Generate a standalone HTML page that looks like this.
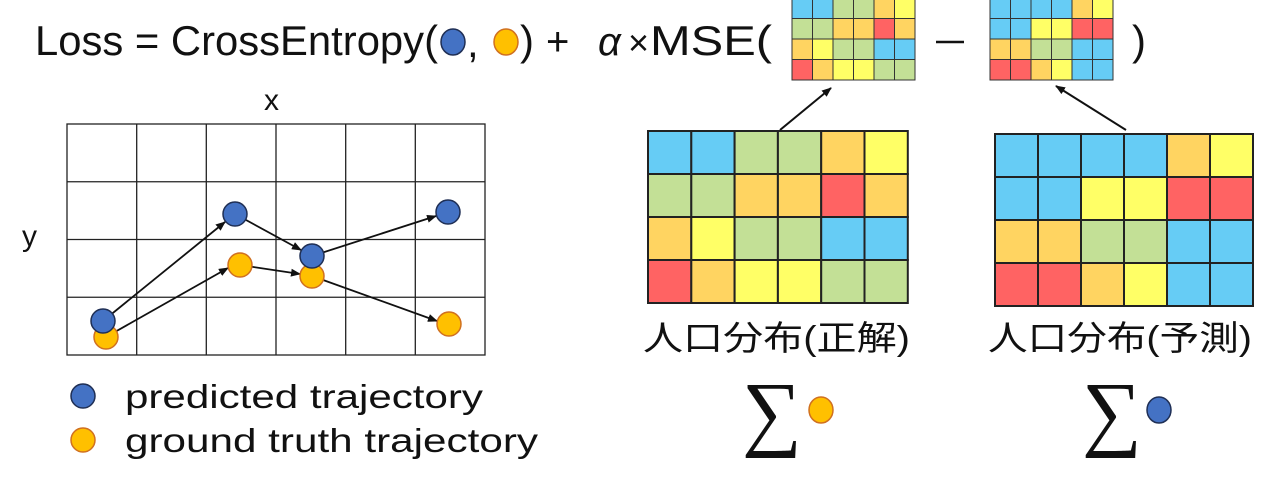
<!DOCTYPE html>
<html><head><meta charset="utf-8"><style>
html,body{margin:0;padding:0;background:#fff;}
svg{display:block}
text{font-family:"Liberation Sans","Noto Sans CJK JP",sans-serif;fill:#111}
</style></head><body>
<svg width="1280" height="486" viewBox="0 0 1280 486" xmlns="http://www.w3.org/2000/svg">
<defs>
<marker id="ah" markerWidth="10" markerHeight="8" refX="9" refY="4" orient="auto" markerUnits="userSpaceOnUse">
<path d="M0,0 L10,4 L0,8 Z" fill="#111"/></marker>
</defs>
<!-- formula -->
<text x="35" y="55" font-size="42" textLength="403" lengthAdjust="spacingAndGlyphs">Loss = CrossEntropy(</text>
<ellipse cx="453" cy="42" rx="12" ry="13" fill="#4472c4" stroke="#1f2f55" stroke-width="1.5"/>
<text x="467" y="57" font-size="42">,</text>
<ellipse cx="506" cy="42" rx="12" ry="13" fill="#ffc000" stroke="#d07020" stroke-width="1.5"/>
<text x="520" y="55" font-size="42" textLength="14" lengthAdjust="spacingAndGlyphs">)</text>
<text x="546" y="55" font-size="40">+</text>
<text x="598" y="55" font-size="40" font-style="italic">α</text>
<text x="628" y="55" font-size="36">×</text>
<text x="650" y="55" font-size="42" textLength="122" lengthAdjust="spacingAndGlyphs">MSE(</text>
<line x1="936" y1="42" x2="964" y2="42" stroke="#111" stroke-width="2.5"/>
<text x="1132" y="55" font-size="42" textLength="14" lengthAdjust="spacingAndGlyphs">)</text>

<!-- small grids -->
<g stroke="#333" stroke-width="1">
<g transform="translate(792,-2)">
<rect x="0" y="0" width="20.5" height="20.5" fill="#66ccf5"/><rect x="20.5" y="0" width="20.5" height="20.5" fill="#66ccf5"/><rect x="41" y="0" width="20.5" height="20.5" fill="#c3e096"/><rect x="61.5" y="0" width="20.5" height="20.5" fill="#c3e096"/><rect x="82" y="0" width="20.5" height="20.5" fill="#ffd461"/><rect x="102.5" y="0" width="20.5" height="20.5" fill="#ffff66"/>
<rect x="0" y="20.5" width="20.5" height="20.5" fill="#c3e096"/><rect x="20.5" y="20.5" width="20.5" height="20.5" fill="#c3e096"/><rect x="41" y="20.5" width="20.5" height="20.5" fill="#ffd461"/><rect x="61.5" y="20.5" width="20.5" height="20.5" fill="#ffd461"/><rect x="82" y="20.5" width="20.5" height="20.5" fill="#ff6363"/><rect x="102.5" y="20.5" width="20.5" height="20.5" fill="#ffd461"/>
<rect x="0" y="41" width="20.5" height="20.5" fill="#ffd461"/><rect x="20.5" y="41" width="20.5" height="20.5" fill="#ffff66"/><rect x="41" y="41" width="20.5" height="20.5" fill="#c3e096"/><rect x="61.5" y="41" width="20.5" height="20.5" fill="#c3e096"/><rect x="82" y="41" width="20.5" height="20.5" fill="#66ccf5"/><rect x="102.5" y="41" width="20.5" height="20.5" fill="#66ccf5"/>
<rect x="0" y="61.5" width="20.5" height="20.5" fill="#ff6363"/><rect x="20.5" y="61.5" width="20.5" height="20.5" fill="#ffd461"/><rect x="41" y="61.5" width="20.5" height="20.5" fill="#ffff66"/><rect x="61.5" y="61.5" width="20.5" height="20.5" fill="#ffff66"/><rect x="82" y="61.5" width="20.5" height="20.5" fill="#c3e096"/><rect x="102.5" y="61.5" width="20.5" height="20.5" fill="#c3e096"/>
</g>
<g transform="translate(990,-2)">
<rect x="0" y="0" width="20.5" height="20.5" fill="#66ccf5"/><rect x="20.5" y="0" width="20.5" height="20.5" fill="#66ccf5"/><rect x="41" y="0" width="20.5" height="20.5" fill="#66ccf5"/><rect x="61.5" y="0" width="20.5" height="20.5" fill="#66ccf5"/><rect x="82" y="0" width="20.5" height="20.5" fill="#ffd461"/><rect x="102.5" y="0" width="20.5" height="20.5" fill="#ffff66"/>
<rect x="0" y="20.5" width="20.5" height="20.5" fill="#66ccf5"/><rect x="20.5" y="20.5" width="20.5" height="20.5" fill="#66ccf5"/><rect x="41" y="20.5" width="20.5" height="20.5" fill="#ffff66"/><rect x="61.5" y="20.5" width="20.5" height="20.5" fill="#ffff66"/><rect x="82" y="20.5" width="20.5" height="20.5" fill="#ff6363"/><rect x="102.5" y="20.5" width="20.5" height="20.5" fill="#ff6363"/>
<rect x="0" y="41" width="20.5" height="20.5" fill="#ffd461"/><rect x="20.5" y="41" width="20.5" height="20.5" fill="#ffd461"/><rect x="41" y="41" width="20.5" height="20.5" fill="#c3e096"/><rect x="61.5" y="41" width="20.5" height="20.5" fill="#c3e096"/><rect x="82" y="41" width="20.5" height="20.5" fill="#66ccf5"/><rect x="102.5" y="41" width="20.5" height="20.5" fill="#66ccf5"/>
<rect x="0" y="61.5" width="20.5" height="20.5" fill="#ff6363"/><rect x="20.5" y="61.5" width="20.5" height="20.5" fill="#ff6363"/><rect x="41" y="61.5" width="20.5" height="20.5" fill="#ffd461"/><rect x="61.5" y="61.5" width="20.5" height="20.5" fill="#ffff66"/><rect x="82" y="61.5" width="20.5" height="20.5" fill="#66ccf5"/><rect x="102.5" y="61.5" width="20.5" height="20.5" fill="#66ccf5"/>
</g>
</g>

<!-- big grids -->
<g stroke="#222" stroke-width="2">
<g transform="translate(648,131)">
<rect x="0" y="0" width="43.3" height="43" fill="#66ccf5"/><rect x="43.3" y="0" width="43.3" height="43" fill="#66ccf5"/><rect x="86.6" y="0" width="43.3" height="43" fill="#c3e096"/><rect x="129.9" y="0" width="43.3" height="43" fill="#c3e096"/><rect x="173.2" y="0" width="43.3" height="43" fill="#ffd461"/><rect x="216.5" y="0" width="43.3" height="43" fill="#ffff66"/>
<rect x="0" y="43" width="43.3" height="43" fill="#c3e096"/><rect x="43.3" y="43" width="43.3" height="43" fill="#c3e096"/><rect x="86.6" y="43" width="43.3" height="43" fill="#ffd461"/><rect x="129.9" y="43" width="43.3" height="43" fill="#ffd461"/><rect x="173.2" y="43" width="43.3" height="43" fill="#ff6363"/><rect x="216.5" y="43" width="43.3" height="43" fill="#ffd461"/>
<rect x="0" y="86" width="43.3" height="43" fill="#ffd461"/><rect x="43.3" y="86" width="43.3" height="43" fill="#ffff66"/><rect x="86.6" y="86" width="43.3" height="43" fill="#c3e096"/><rect x="129.9" y="86" width="43.3" height="43" fill="#c3e096"/><rect x="173.2" y="86" width="43.3" height="43" fill="#66ccf5"/><rect x="216.5" y="86" width="43.3" height="43" fill="#66ccf5"/>
<rect x="0" y="129" width="43.3" height="43" fill="#ff6363"/><rect x="43.3" y="129" width="43.3" height="43" fill="#ffd461"/><rect x="86.6" y="129" width="43.3" height="43" fill="#ffff66"/><rect x="129.9" y="129" width="43.3" height="43" fill="#ffff66"/><rect x="173.2" y="129" width="43.3" height="43" fill="#c3e096"/><rect x="216.5" y="129" width="43.3" height="43" fill="#c3e096"/>
</g>
<g transform="translate(995,134)">
<rect x="0" y="0" width="43" height="43" fill="#66ccf5"/><rect x="43" y="0" width="43" height="43" fill="#66ccf5"/><rect x="86" y="0" width="43" height="43" fill="#66ccf5"/><rect x="129" y="0" width="43" height="43" fill="#66ccf5"/><rect x="172" y="0" width="43" height="43" fill="#ffd461"/><rect x="215" y="0" width="43" height="43" fill="#ffff66"/>
<rect x="0" y="43" width="43" height="43" fill="#66ccf5"/><rect x="43" y="43" width="43" height="43" fill="#66ccf5"/><rect x="86" y="43" width="43" height="43" fill="#ffff66"/><rect x="129" y="43" width="43" height="43" fill="#ffff66"/><rect x="172" y="43" width="43" height="43" fill="#ff6363"/><rect x="215" y="43" width="43" height="43" fill="#ff6363"/>
<rect x="0" y="86" width="43" height="43" fill="#ffd461"/><rect x="43" y="86" width="43" height="43" fill="#ffd461"/><rect x="86" y="86" width="43" height="43" fill="#c3e096"/><rect x="129" y="86" width="43" height="43" fill="#c3e096"/><rect x="172" y="86" width="43" height="43" fill="#66ccf5"/><rect x="215" y="86" width="43" height="43" fill="#66ccf5"/>
<rect x="0" y="129" width="43" height="43" fill="#ff6363"/><rect x="43" y="129" width="43" height="43" fill="#ff6363"/><rect x="86" y="129" width="43" height="43" fill="#ffd461"/><rect x="129" y="129" width="43" height="43" fill="#ffff66"/><rect x="172" y="129" width="43" height="43" fill="#66ccf5"/><rect x="215" y="129" width="43" height="43" fill="#66ccf5"/>
</g>
</g>

<!-- grid-to-small arrows -->
<line x1="780" y1="130" x2="831" y2="88" stroke="#111" stroke-width="2" marker-end="url(#ah)"/>
<line x1="1126" y1="130" x2="1056" y2="86" stroke="#111" stroke-width="2" marker-end="url(#ah)"/>

<text x="643" y="350" font-size="34" textLength="267" lengthAdjust="spacingAndGlyphs">人口分布(正解)</text>
<text x="988" y="350" font-size="34" textLength="264" lengthAdjust="spacingAndGlyphs">人口分布(予測)</text>

<text x="742" y="440" font-size="84" style="font-family:'Liberation Serif',serif">∑</text>
<ellipse cx="821" cy="410" rx="12" ry="13" fill="#ffc000" stroke="#d07020" stroke-width="1.5"/>
<text x="1082" y="440" font-size="84" style="font-family:'Liberation Serif',serif">∑</text>
<ellipse cx="1159" cy="410" rx="12" ry="13" fill="#4472c4" stroke="#1f2f55" stroke-width="1.5"/>

<!-- trajectory grid -->
<g stroke="#222" stroke-width="1.3" fill="none">
<rect x="67" y="124" width="418" height="231"/>
<line x1="136.7" y1="124" x2="136.7" y2="355"/><line x1="206.3" y1="124" x2="206.3" y2="355"/><line x1="276" y1="124" x2="276" y2="355"/><line x1="345.7" y1="124" x2="345.7" y2="355"/><line x1="415.3" y1="124" x2="415.3" y2="355"/>
<line x1="67" y1="181.75" x2="485" y2="181.75"/><line x1="67" y1="239.5" x2="485" y2="239.5"/><line x1="67" y1="297.25" x2="485" y2="297.25"/>
</g>
<text x="264" y="110" font-size="30">x</text>
<text x="22" y="246" font-size="30">y</text>

<g stroke="#111" stroke-width="1.8" marker-end="url(#ah)">
<line x1="106" y1="337" x2="228" y2="268"/>
<line x1="240" y1="265" x2="300" y2="274"/>
<line x1="312" y1="276" x2="437" y2="321"/>
<line x1="103" y1="321" x2="225" y2="222"/>
<line x1="235" y1="214" x2="301" y2="250"/>
<line x1="312" y1="256" x2="436" y2="216"/>
</g>
<g fill="#ffc000" stroke="#d07020" stroke-width="1.5">
<circle cx="106" cy="337" r="12"/><circle cx="240" cy="265" r="12"/><circle cx="312" cy="276" r="12"/><circle cx="449" cy="324" r="12"/>
</g>
<g fill="#4472c4" stroke="#1f2f55" stroke-width="1.5">
<circle cx="103" cy="321" r="12"/><circle cx="235" cy="214" r="12"/><circle cx="312" cy="256" r="12"/><circle cx="448" cy="212" r="12"/>
</g>

<!-- legend -->
<circle cx="83" cy="396" r="12" fill="#4472c4" stroke="#1f2f55" stroke-width="1.5"/>
<text x="125" y="408" font-size="33" textLength="358" lengthAdjust="spacingAndGlyphs">predicted trajectory</text>
<circle cx="83" cy="440" r="12" fill="#ffc000" stroke="#d07020" stroke-width="1.5"/>
<text x="125" y="452" font-size="33" textLength="413" lengthAdjust="spacingAndGlyphs">ground truth trajectory</text>
</svg>
</body></html>
